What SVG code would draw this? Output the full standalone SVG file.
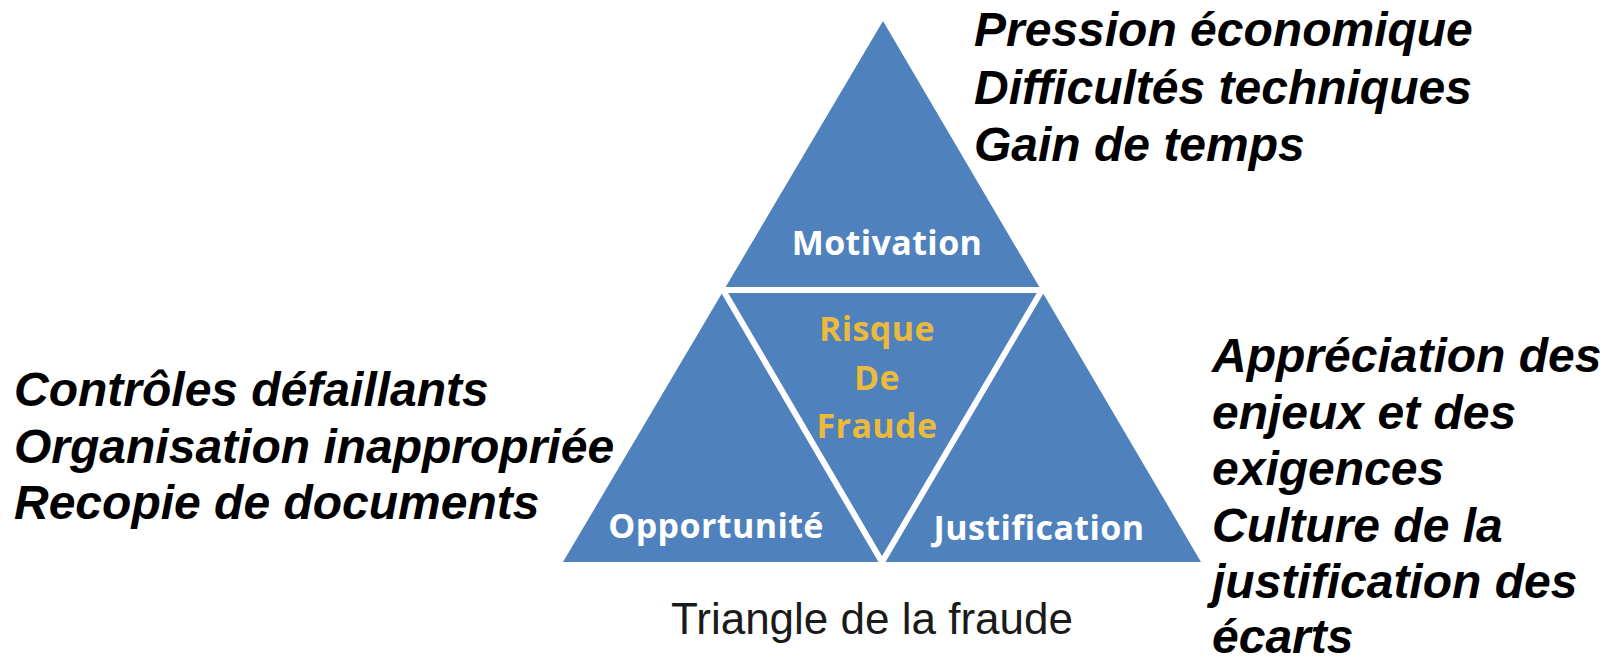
<svg xmlns="http://www.w3.org/2000/svg" width="1616" height="661" viewBox="0 0 1616 661">
<style>
.note{font-family:"Liberation Sans",Arial,sans-serif;font-weight:bold;font-style:italic;font-size:48px;fill:#000}
.lbl{font-family:"Open Sans","Noto Sans",sans-serif;font-weight:bold;font-size:34px;text-anchor:middle;letter-spacing:0.4px}
.w{fill:#FFFFFF}
.y{fill:#EBBA3C}
.cap{font-family:"Liberation Sans",Arial,sans-serif;font-size:44px;fill:#1a1a1a}
</style>
<rect width="1616" height="661" fill="#FFFFFF"/>
<g id="triangle">
<polygon points="883,21 1201,562 563,562" fill="#4F81BD"/>
<polygon points="723,290 1042,290 882,562" fill="none" stroke="#FFFFFF" stroke-width="6" stroke-linejoin="miter"/>
</g>
<g id="motivation"><text class="lbl w" x="887" y="255">Motivation</text></g>
<g id="risque"><text class="lbl y" x="877" y="341">Risque</text><text class="lbl y" x="877" y="390">De</text><text class="lbl y" x="877" y="438">Fraude</text></g>
<g id="opportunite"><text class="lbl w" x="716" y="538">Opportunité</text></g>
<g id="justification"><text class="lbl w" x="1039" y="540">Justification</text></g>
<g id="notes-motivation">
<text class="note" x="974" y="46">Pression économique</text>
<text class="note" x="974" y="104">Difficultés techniques</text>
<text class="note" x="974" y="161">Gain de temps</text>
</g>
<g id="notes-opportunite">
<text class="note" x="14" y="406">Contrôles défaillants</text>
<text class="note" x="14" y="463">Organisation inappropriée</text>
<text class="note" x="14" y="519">Recopie de documents</text>
</g>
<g id="notes-justification">
<text class="note" x="1212" y="372">Appréciation des</text>
<text class="note" x="1212" y="429">enjeux et des</text>
<text class="note" x="1212" y="485">exigences</text>
<text class="note" x="1212" y="542">Culture de la</text>
<text class="note" x="1212" y="598">justification des</text>
<text class="note" x="1212" y="653">écarts</text>
</g>
<g id="caption"><text class="cap" x="671" y="634">Triangle de la fraude</text></g>
<g id="connectors"/>
</svg>
